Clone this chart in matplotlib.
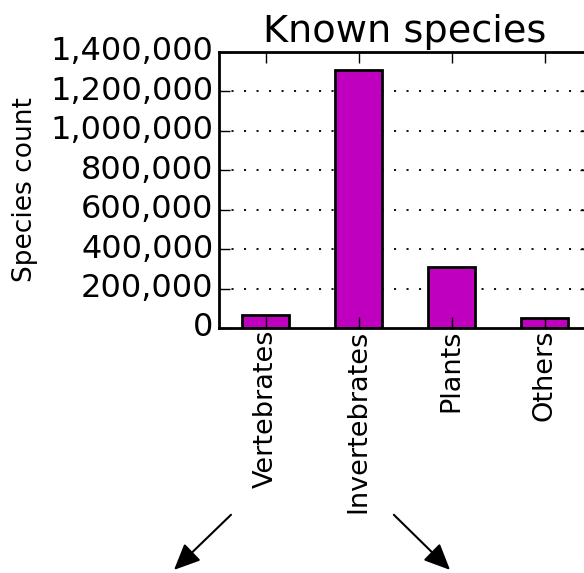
import matplotlib
matplotlib.use("Agg")
import matplotlib.pyplot as plt
from matplotlib.ticker import FuncFormatter

plt.style.use("classic")

# data
categories = ["Vertebrates", "Invertebrates", "Plants", "Others"]
counts = [64000, 1307000, 309000, 52000]

fig = plt.figure(figsize=(5.84, 5.73), dpi=100)
ax = fig.add_axes([0.375, 0.4276, 0.637, 0.4817])

x = list(range(len(categories)))
ax.bar(x, counts, width=0.5, align="center", color=(0.75, 0, 0.75),
       edgecolor="black", linewidth=2, zorder=1)

ax.set_xlim(-0.5, 3.5)
ax.set_ylim(0, 1400000)
ax.set_xticks(x)
ax.set_xticklabels(categories, rotation=90, fontsize=19.5)
ax.yaxis.set_major_formatter(FuncFormatter(lambda v, p: "{:,}".format(int(v))))
ax.tick_params(axis="y", labelsize=23)
ax.tick_params(axis="x", pad=1)
ax.tick_params(length=8, width=1)

# dotted grid behind the bars
for yv in ax.get_yticks():
    if 0 < yv < 1400000:
        ax.axhline(yv, color="black", linestyle=(0, (1.5, 7.5)), linewidth=1.3,
                   zorder=0.5)

for s in ax.spines.values():
    s.set_linewidth(2)

ax.set_title("Known species", fontsize=27.5, y=1.01)
ax.set_ylabel("Species count", fontsize=19, labelpad=9)

# arrows below the axis
for start, end in [((0.399, 0.105), (0.2945, 0.002)),
                   ((0.671, 0.105), (0.774, 0.002))]:
    ax.annotate("", xy=end, xytext=start,
                xycoords="figure fraction", textcoords="figure fraction",
                arrowprops=dict(arrowstyle="-|>,head_length=1.0,head_width=0.45",
                                color="black", lw=1.5, mutation_scale=16),
                annotation_clip=False)

fig.savefig("out.png", dpi=100, facecolor="white")
